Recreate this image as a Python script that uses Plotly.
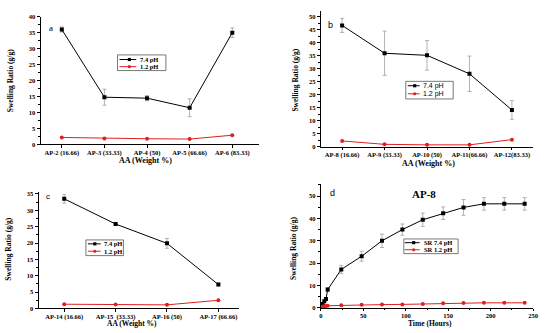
import plotly.graph_objects as go

# ---------------- data ----------------
cat_a = ["AP-2 (16.66)", "AP-3 (33.33)", "AP-4 (50)", "AP-5 (66.66)", "AP-6 (83.33)"]
a_74 = [36.0, 14.8, 14.5, 11.5, 35.0]
a_74_err = [0.8, 2.5, 0.8, 2.8, 1.5]
a_12 = [2.2, 1.9, 1.8, 1.7, 2.9]

cat_b = ["AP-8 (16.66)", "AP-9 (33.33)", "AP-10 (50)", "AP-11(66.66)", "AP-12(83.33)"]
b_74 = [46.7, 36.0, 35.2, 28.1, 14.2]
b_74_err = [2.7, 8.5, 5.7, 6.8, 3.6]
b_12 = [2.3, 1.0, 0.8, 0.8, 2.8]

cat_c = ["AP-14 (16.66)", "AP-15  (33.33)", "AP-16 (50)", "AP-17 (66.66)"]
c_74 = [33.5, 25.8, 19.9, 7.3]
c_74_err = [1.3, 0.4, 1.5, 0.4]
c_12 = [1.3, 1.2, 1.1, 2.5]

time_d = [0, 2, 4, 6, 8, 24, 48, 72, 96, 120, 144, 168, 192, 216, 240]
d_74 = [0.3, 1.8, 3.0, 4.0, 8.2, 17.2, 23.1, 30.0, 35.0, 39.4, 42.3, 44.9, 46.5, 46.5, 46.5]
d_74_err = [0.2, 0.3, 0.4, 0.5, 0.8, 1.8, 2.2, 3.0, 2.5, 3.0, 2.8, 3.5, 2.8, 2.8, 2.8]
d_12 = [0.3, 0.6, 0.8, 0.9, 1.0, 1.2, 1.4, 1.5, 1.6, 1.8, 2.1, 2.2, 2.3, 2.3, 2.3]

W, H = 550, 333
SERIF = "Liberation Serif"
SANS = "Liberation Sans"
BLACK = "black"
RED = "#e02020"


def px_x(p):
    return p / W


def px_y(p):
    return 1 - p / H


fig = go.Figure()

err_style = dict(type="data", color="#a0a0a0", thickness=0.8, width=2)
black_line = dict(color=BLACK, width=1)
red_line = dict(color=RED, width=1)
black_marker = dict(symbol="square", size=4, color=BLACK)
red_marker = dict(symbol="circle", size=4, color=RED)


def add_pair(x, y74, e74, y12, xa, ya, n74, n12):
    fig.add_trace(go.Scatter(x=x, y=y74, mode="lines+markers", name=n74,
                             line=black_line, marker=black_marker,
                             error_y=dict(array=e74, **err_style),
                             xaxis=xa, yaxis=ya, showlegend=False))
    fig.add_trace(go.Scatter(x=x, y=y12, mode="lines+markers", name=n12,
                             line=red_line, marker=red_marker,
                             xaxis=xa, yaxis=ya, showlegend=False))


add_pair(cat_a, a_74, a_74_err, a_12, "x", "y", "7.4 pH", "1.2 pH")
add_pair(cat_b, b_74, b_74_err, b_12, "x2", "y2", "7.4 pH", "1.2 pH")
add_pair(cat_c, c_74, c_74_err, c_12, "x3", "y3", "7.4 pH", "1.2 pH")
add_pair(time_d, d_74, d_74_err, d_12, "x4", "y4", "SR 7.4 pH", "SR 1.2 pH")

tickfont = dict(family=SERIF, size=6.5, color=BLACK, weight="bold")


def xaxis(domain, rng, anchor, **kw):
    d = dict(domain=domain, range=rng, anchor=anchor, showline=True, linecolor=BLACK,
             linewidth=1, ticks="outside", ticklen=2.5, tickcolor=BLACK, tickwidth=1,
             ticklabelstandoff=-1,
             showgrid=False, zeroline=False, tickfont=tickfont, fixedrange=True)
    d.update(kw)
    return d


def yaxis(domain, rng, anchor, dtick, **kw):
    d = dict(domain=domain, range=rng, anchor=anchor, showline=True, linecolor=BLACK,
             linewidth=1, ticks="outside", ticklen=3, tickcolor=BLACK, tickwidth=1,
             showgrid=False, zeroline=False, tickfont=tickfont, dtick=dtick, tick0=0,
             minor=dict(ticks="outside", ticklen=1.5, dtick=dtick / 2, tick0=0,
                        tickcolor=BLACK, showgrid=False),
             fixedrange=True)
    d.update(kw)
    return d


fig.update_layout(
    width=W, height=H, margin=dict(l=0, r=0, t=0, b=0),
    paper_bgcolor="white", plot_bgcolor="white",
    xaxis=xaxis([px_x(39), px_x(260)], [-0.5, 4.62], "y", type="category"),
    yaxis=yaxis([px_y(143.5), px_y(13)], [0, 40], "x", 5),
    xaxis2=xaxis([px_x(323), px_x(538)], [-0.5, 4.5], "y2", type="category"),
    yaxis2=yaxis([px_y(146), px_y(7)], [0, 52.3], "x2", 5),
    xaxis3=xaxis([px_x(37), px_x(240)], [-0.5, 3.4], "y3", type="category"),
    yaxis3=yaxis([px_y(311), px_y(192)], [0, 35.6], "x3", 5),
    xaxis4=xaxis([px_x(323), px_x(538)], [0, 250], "y4", dtick=50,
                 minor=dict(ticks="outside", ticklen=1.5, dtick=25, tickcolor=BLACK)),
    yaxis4=yaxis([px_y(310.5), px_y(184)], [0, 55.3], "x4", 10),
)

ann = []
shapes = []


def text(x, y, s, size, family=SERIF, weight="bold", angle=0, xanchor="center"):
    ann.append(dict(x=px_x(x), y=px_y(y), xref="paper", yref="paper", text=s,
                    showarrow=False, textangle=angle, xanchor=xanchor, yanchor="middle",
                    font=dict(family=family, size=size, color=BLACK, weight=weight)))


def legend_box(box, line_x, mark_x, text_x, rows, family, weight, size):
    x0, y0, x1, y1 = box
    shapes.append(dict(type="rect", xref="paper", yref="paper",
                       x0=px_x(x0), x1=px_x(x1), y0=px_y(y0), y1=px_y(y1),
                       line=dict(color="#555555", width=0.8), fillcolor="white"))
    for (ry, name, color, symbol) in rows:
        shapes.append(dict(type="line", xref="paper", yref="paper",
                           x0=px_x(line_x[0]), x1=px_x(line_x[1]),
                           y0=px_y(ry), y1=px_y(ry), line=dict(color=color, width=1)))
        r = 1.6
        shapes.append(dict(type="rect" if symbol == "square" else "circle",
                           xref="paper", yref="paper",
                           x0=px_x(mark_x - r), x1=px_x(mark_x + r),
                           y0=px_y(ry - r), y1=px_y(ry + r),
                           line=dict(color=color, width=0), fillcolor=color))
        text(text_x, ry, name, size, family=family, weight=weight, xanchor="left")


legend_box((117, 52, 166, 68), (119, 136), 129, 138,
           [(56.7, "7.4 pH", BLACK, "square"), (64, "1.2 pH", RED, "circle")],
           SERIF, "bold", 6.5)
legend_box((409, 79, 457, 97), (411, 423), 418, 424,
           [(83.5, "7.4 pH", BLACK, "square"), (91.7, "1.2 pH", RED, "circle")],
           SANS, "normal", 7)
legend_box((85, 241, 123, 257), (87, 100), 94, 101,
           [(245, "7.4 pH", BLACK, "square"), (252.5, "1.2 pH", RED, "circle")],
           SERIF, "bold", 6.5)
legend_box((407, 240, 462, 255), (408, 423), 417, 425,
           [(243.8, "SR 7.4 pH", BLACK, "square"), (251, "SR 1.2 pH", RED, "circle")],
           SERIF, "bold", 6.5)

ytitle = "Swelling Ratio (g/g)"
text(8, 78, ytitle, 7.5, angle=-90)
text(297, 78, ytitle, 7.5, angle=-90)
text(7, 250, ytitle, 7.5, angle=-90)
text(296, 250, ytitle, 7.5, angle=-90)
text(145, 159.5, "AA (Weight %)", 8)
text(432, 162.5, "AA (Weight %)", 8)
text(132, 326, "AA (Weight %)", 7.5)
text(434, 326, "Time (Hours)", 7.5)
text(50, 25, "a", 9, family=SERIF, weight="normal")
text(333, 21, "b", 9, family=SANS, weight="normal")
text(47, 197, "c", 8, family=SANS, weight="normal")
text(335, 193, "d", 9, family=SANS, weight="normal")
text(427, 194, "AP-8", 11)
fig.update_layout(annotations=ann, shapes=shapes)

# the page's default body margin would shift the 550x333 figure; remove it
fig.write_html("out.html",
               config={"displayModeBar": False},
               post_script="document.body.style.margin='0px';"
                           "document.body.style.overflow='hidden';")
